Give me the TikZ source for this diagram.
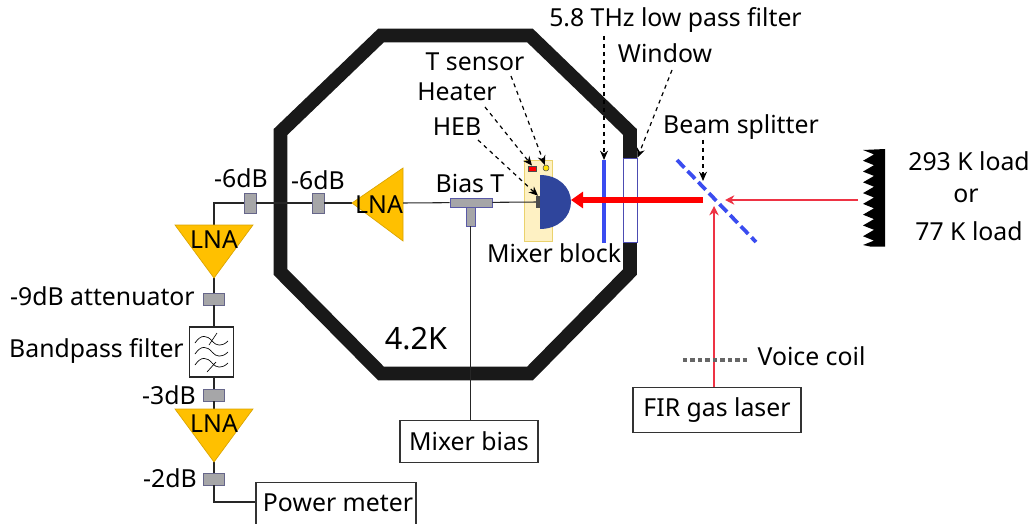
\documentclass[tikz,border=0pt]{standalone}
\usepackage{fontspec}
\setmainfont{Noto Sans}
\usepackage{tikz}
\usetikzlibrary{arrows.meta,calc,positioning}
\definecolor{lnagold}{HTML}{FFC000}
\definecolor{attgrey}{HTML}{A6A6A8}
\definecolor{domeblue}{HTML}{2F459C}
\definecolor{filterblue}{HTML}{3A4CF0}
\definecolor{beamred}{HTML}{EE3344}
\tikzset{
    mylabel/.style={inner sep=0pt,font=\fontsize{18.6}{22}\selectfont},
    mybox/.style={draw=black!80,line width=0.9pt,fill=white,inner sep=0pt,font=\fontsize{18.6}{22}\selectfont},
    myatt/.style={draw=black!30!blue!20!gray,fill=attgrey,line width=0.5pt,inner sep=0pt,minimum width=15.5pt,minimum height=9pt},
    myattv/.style={myatt,minimum width=9pt,minimum height=15pt},
    mywire/.style={line width=0.8pt,draw=black!85},
    mylna/.style={fill=lnagold,draw=lnagold!85!black,line width=0.5pt},
    mypointer/.style={dashed,line width=0.9pt,-{Stealth[length=7pt,width=6pt]}},
    mybeam/.style={draw=beamred,line width=0.9pt,-{Stealth[length=7pt,width=7pt]}},
}

\begin{document}
\begin{tikzpicture}[x=0.75pt,y=-0.75pt]
  \useasboundingbox (0,0) rectangle (1034,524);
  % cryostat wall
  \draw[line width=10.3pt,black!90,line join=miter] (381,35.5)--(530,35.5)--(630,132)--(630,272)--(530,373.5)--(381,373.5)--(280.5,272)--(280.5,132)--cycle;
  \node[draw=blue!40!gray,fill=white,line width=0.7pt,inner sep=0pt,minimum width=10.5pt,minimum height=63.5pt] (window) at (630,200.5) {};
  \node[mylabel] (coldlabel) at (416,339) {\fontsize{23}{26}\selectfont 4.2K};

  % coordinates of the chain
  \coordinate (cornerA) at (214,203);
  \coordinate (lnaOneIn) at (214,225);
  \coordinate (lnaOneOut) at (214,278);
  \coordinate (lnaTwoIn) at (214,409);
  \coordinate (lnaTwoOut) at (214,462);
  \coordinate (lnaCold) at (352,203);
  \coordinate (lnaColdOut) at (403,203);
  \coordinate (cornerB) at (214,502);

  \node[myattv] (attA) at (250,203) {};
  \node[myattv] (attB) at (318,203) {};
  \node[myatt] (attC) at (214,299) {};
  \node[myatt] (attD) at (214,395) {};
  \node[myatt] (attE) at (214,479) {};
  \node[draw=black!85,line width=0.8pt,fill=white,minimum width=33.5pt,minimum height=37.5pt,inner sep=0pt] (bpf) at (211.5,352) {};
  \node[mybox,minimum width=103.5pt,minimum height=32pt] (biasbox) at (469,441.5) {Mixer bias};
  \node[mybox,minimum width=126pt,minimum height=34pt] (laserbox) at (717,410) {FIR gas laser};
  \node[mybox,minimum width=120pt,minimum height=37pt] (meterbox) at (336,507) {};
  \node[mylabel] (meterlabel) at (338,503) {Power meter};

  % wires
  \draw[mywire] (lnaOneIn)--(cornerA)--(attA)--(attB)--(lnaCold);
  \draw[mywire] (lnaOneOut)--(attC)--(attC |- bpf.north);
  \draw[mywire] (attD |- bpf.south)--(attD)--(lnaTwoIn);
  \draw[mywire] (lnaTwoOut)--(attE)--(cornerB)--(cornerB -| meterbox.west);

  % amplifiers
  \fill[mylna] (175,225)--(253,225)--(lnaOneOut)--cycle;
  \fill[mylna] (175,409)--(253,409)--(lnaTwoOut)--cycle;
  \fill[mylna] (403,168)--(403,241)--(lnaCold)--cycle;
  \node[mylabel] (lnaOne) at (214,240) {LNA};
  \node[mylabel] (lnaTwo) at (214,424) {LNA};
  \node[mylabel] (lnaThree) at (379,205) {LNA};

  % filter symbol
  \foreach \dy in {0,11,22}{
    \draw[line width=0.5pt] (195,{343+\dy}) .. controls (201,{334+\dy}) and (207,{335+\dy}) .. (212,{341+\dy}) .. controls (216,{346+\dy}) and (222,{347+\dy}) .. (228,{341+\dy});
  }
  \draw[line width=0.5pt] (217,333)--(209,345);
  \draw[line width=0.5pt] (216,362)--(207,372);

  % mixer block and bias
  \node[draw=yellow!50!brown!70,fill=yellow!60!orange!22,line width=0.6pt,inner sep=0pt,minimum width=21.5pt,minimum height=60.5pt] (block) at (538.5,201) {};
  \node[draw=black!70,fill=red,line width=0.3pt,inner sep=0pt,minimum width=6pt,minimum height=4pt] (heater) at (532,168.5) {};
  \node[circle,draw=black!70,fill=yellow!85!orange,line width=0.4pt,inner sep=0pt,minimum size=4.5pt] (sensor) at (546,168) {};
  \node[fill=black!70,inner sep=0pt,minimum width=2.8pt,minimum height=9pt] (heb) at (538,202) {};
  \fill[domeblue] (540,175) .. controls (558,175) and (571,187) .. (571,202) .. controls (571,217) and (558,229) .. (540,229) -- cycle;
  \coordinate (dome) at (571,200);
  \node[draw=blue!30!gray,fill=attgrey,line width=0.5pt,inner sep=0pt,minimum width=6.5pt,minimum height=14pt] (teeV) at (470.5,216.5) {};
  \node[draw=blue!30!gray,fill=attgrey,line width=0.5pt,inner sep=0pt,minimum width=31.5pt,minimum height=7pt] (teeH) at (471,202.5) {};
  \draw[mywire] (lnaColdOut)--(teeH)--(heb);
  \draw[mywire] (teeV.south)--(teeV.south |- biasbox.north);

  % optics
  \draw[line width=2.8pt,filterblue] (604,160)--(604,243);
  \draw[line width=2.8pt,filterblue,dash pattern=on 8pt off 3.5pt] (677,160)--(756,242);
  \coordinate (splitL) at (703,200);
  \coordinate (splitR) at (725,200);
  \coordinate (splitB) at (714,206);
  \coordinate (loadIn) at (858,200);
  \coordinate (laserOut) at (714,387);
  \draw[red,line width=3.8pt,-{Stealth[length=9pt,width=12pt,inset=0pt]}] (splitL)--(dome);
  \draw[mybeam] (loadIn)--(splitR);
  \draw[mybeam] (laserOut)--(splitB);

  % absorber load
  \fill[black] (885,149)
    \foreach \i in {0,...,8}{ -- ({863},{149+\i*10.78+1}) -- ({874},{149+(\i+0.5)*10.78}) }
    -- (863,245) -- (870,246.5) -- (885,246.5) -- cycle;
  \node[mylabel] (hotload) at (969,161) {293 K load};
  \node[mylabel] (orlabel) at (966,196) {or};
  \node[mylabel] (coldload) at (969,231) {77 K load};

  % voice coil
  \coordinate (coilL) at (683,360);
  \coordinate (coilR) at (748,360);
  \draw[line width=3pt,black!60,dash pattern=on 3.2pt off 2.4pt] (coilL)--(coilR);
  \node[mylabel] (coillabel) at (811.5,356) {Voice coil};

  % labels with pointers
  \node[mylabel] (filterlabel) at (675.5,20) {5.8 THz low pass filter};
  \node[mylabel] (windowlabel) at (665,53) {Window};
  \node[mylabel] (splitlabel) at (741,127) {Beam splitter};
  \node[mylabel] (tsensorlabel) at (475,62) {T sensor};
  \node[mylabel] (heaterlabel) at (457,92) {Heater};
  \node[mylabel] (heblabel) at (457,127) {HEB};
  \node[mylabel] (teelabel) at (470,183) {Bias T};
  \node[mylabel] (blocklabel) at (554,253) {Mixer block};
  \coordinate (filtertop) at (604,160);
  \coordinate (splitmid) at (703,181);
  \draw[mypointer] (604,36)--(filtertop);
  \draw[mypointer] (672,70)--(window.north east);
  \draw[mypointer] (703,140)--(splitmid);
  \draw[mypointer] (511,76)--(sensor);
  \draw[mypointer] (485,107)--(heater.north);
  \draw[mypointer] (478,140)--(heb.north);

  % attenuator labels
  \node[mylabel] (attAlabel) at (241,178) {-6dB};
  \node[mylabel] (attBlabel) at (318,180) {-6dB};
  \node[mylabel,anchor=east] (attClabel) at (195,296) {-9dB attenuator};
  \node[mylabel,anchor=east] (bpflabel) at (184,351) {Bandpass filter};
  \node[mylabel,anchor=east] (attDlabel) at (196,395) {-3dB};
  \node[mylabel,anchor=east] (attElabel) at (197,478) {-2dB};
\end{tikzpicture}
\end{document}
